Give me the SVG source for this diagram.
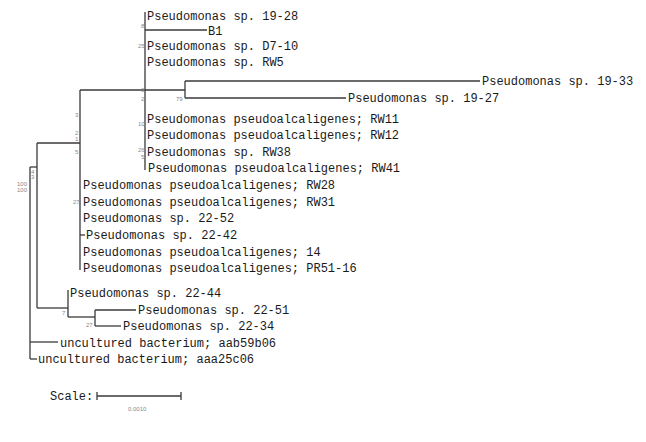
<svg xmlns="http://www.w3.org/2000/svg" width="646" height="442" viewBox="0 0 646 442">
<style>
.t{font-family:"Liberation Mono","Courier New",monospace;font-size:12px;fill:#1a1a1a}
.b{font-family:"Liberation Sans",Arial,sans-serif;font-size:6px;fill:#888}
.e{stroke:#3a3a3a;stroke-width:1.3;fill:none}
</style>
<rect width="646" height="442" fill="#ffffff"/>
<g id="connectors">
<path class="e" d="M145,12 V170"/>
<path class="e" d="M145,30 H207"/>
<path class="e" d="M80,90 H185"/>
<path class="e" d="M185,81 V98"/>
<path class="e" d="M185,81 H480"/>
<path class="e" d="M185,98 H346"/>
<path class="e" d="M80,90 V270"/>
<path class="e" d="M80,235 H85"/>
<path class="e" d="M37,143 H80"/>
<path class="e" d="M37,143 V308"/>
<path class="e" d="M37,308 H68"/>
<path class="e" d="M68,290 V317"/>
<path class="e" d="M68,317 H95"/>
<path class="e" d="M95,310 V326"/>
<path class="e" d="M95,310 H136"/>
<path class="e" d="M95,326 H121"/>
<path class="e" d="M30,167 H37"/>
<path class="e" d="M30,167 V359"/>
<path class="e" d="M30,342 H58"/>
<path class="e" d="M30,359 H37"/>
</g>
<g id="n_19-28"><text class="t" x="147" y="20">Pseudomonas sp. 19-28</text></g>
<g id="n_B1"><text class="t" x="208" y="35">B1</text></g>
<g id="n_D7-10"><text class="t" x="147" y="50">Pseudomonas sp. D7-10</text></g>
<g id="n_RW5"><text class="t" x="147" y="66">Pseudomonas sp. RW5</text></g>
<g id="n_19-33"><text class="t" x="482" y="85">Pseudomonas sp. 19-33</text></g>
<g id="n_19-27"><text class="t" x="348" y="102">Pseudomonas sp. 19-27</text></g>
<g id="n_RW11"><text class="t" x="147" y="123">Pseudomonas pseudoalcaligenes; RW11</text></g>
<g id="n_RW12"><text class="t" x="147" y="139">Pseudomonas pseudoalcaligenes; RW12</text></g>
<g id="n_RW38"><text class="t" x="147" y="156">Pseudomonas sp. RW38</text></g>
<g id="n_RW41"><text class="t" x="148" y="172">Pseudomonas pseudoalcaligenes; RW41</text></g>
<g id="n_RW28"><text class="t" x="83" y="189">Pseudomonas pseudoalcaligenes; RW28</text></g>
<g id="n_RW31"><text class="t" x="83" y="206">Pseudomonas pseudoalcaligenes; RW31</text></g>
<g id="n_22-52"><text class="t" x="83" y="222">Pseudomonas sp. 22-52</text></g>
<g id="n_22-42"><text class="t" x="86" y="239">Pseudomonas sp. 22-42</text></g>
<g id="n_14"><text class="t" x="83" y="256">Pseudomonas pseudoalcaligenes; 14</text></g>
<g id="n_PR51-16"><text class="t" x="83" y="272">Pseudomonas pseudoalcaligenes; PR51-16</text></g>
<g id="n_22-44"><text class="t" x="70" y="297">Pseudomonas sp. 22-44</text></g>
<g id="n_22-51"><text class="t" x="138" y="314">Pseudomonas sp. 22-51</text></g>
<g id="n_22-34"><text class="t" x="123" y="330">Pseudomonas sp. 22-34</text></g>
<g id="n_aab59b06"><text class="t" x="60" y="347">uncultured bacterium; aab59b06</text></g>
<g id="n_aaa25c06"><text class="t" x="38" y="363">uncultured bacterium; aaa25c06</text></g>
<g id="bootstrap">
<text class="b" x="141" y="28">8</text>
<text class="b" x="138" y="48">25</text>
<text class="b" x="141" y="92">0</text>
<text class="b" x="141" y="101">2</text>
<text class="b" x="176" y="101">79</text>
<text class="b" x="75" y="117">3</text>
<text class="b" x="75" y="135">2</text>
<text class="b" x="75" y="141">1</text>
<text class="b" x="75" y="154">5</text>
<text class="b" x="138" y="126">10</text>
<text class="b" x="138" y="152">26</text>
<text class="b" x="141" y="159">5</text>
<text class="b" x="31" y="174">4</text>
<text class="b" x="31" y="179">3</text>
<text class="b" x="17" y="186">100</text>
<text class="b" x="17" y="192">100</text>
<text class="b" x="73" y="204">27</text>
<text class="b" x="62" y="315">7</text>
<text class="b" x="86" y="327">27</text>
</g>
<g id="scale">
<text class="t" x="50" y="400">Scale:</text>
<path class="e" d="M97,396 H181 M97,392 V400 M181,392 V400"/>
<text class="b" x="128" y="411">0.0010</text>
</g>
</svg>
